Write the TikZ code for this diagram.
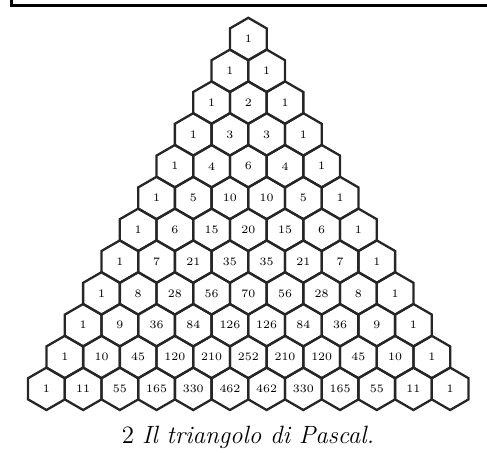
\documentclass[tikz,border=0pt]{standalone}
\usetikzlibrary{shapes.geometric}

\begin{document}
\begin{tikzpicture}[x=0.5pt, y=0.5pt,
  hexcell/.style={regular polygon, regular polygon sides=6, shape border rotate=30,
    draw=black!85, line width=1.15pt, minimum size=21.2pt, inner sep=0pt, outer sep=0pt,
    font=\fontsize{5.7}{6}\selectfont}]
  \useasboundingbox (0,0) rectangle (487,452);
  \draw[line width=1.5pt] (11.5,452) -- (11.5,447) -- (487,447);

  \foreach \row [count=\n from 0] in {{1},{1,1},{1,2,1},{1,3,3,1},{1,4,6,4,1},
      {1,5,10,10,5,1},{1,6,15,20,15,6,1},{1,7,21,35,35,21,7,1},
      {1,8,28,56,70,56,28,8,1},{1,9,36,84,126,126,84,36,9,1},
      {1,10,45,120,210,252,210,120,45,10,1},
      {1,11,55,165,330,462,462,330,165,55,11,1}} {
    \foreach \v [count=\k from 0] in \row {
      \node[hexcell] (h-\n-\k) at ({248.3+(\k-\n/2)*36.7}, {413-\n*31.8}) {\v};
    }
  }

  \node[font=\fontsize{12.5}{15}\selectfont, anchor=base] (caption) at (248,9)
    {2 \textit{Il triangolo di Pascal.}};
\end{tikzpicture}
\end{document}
